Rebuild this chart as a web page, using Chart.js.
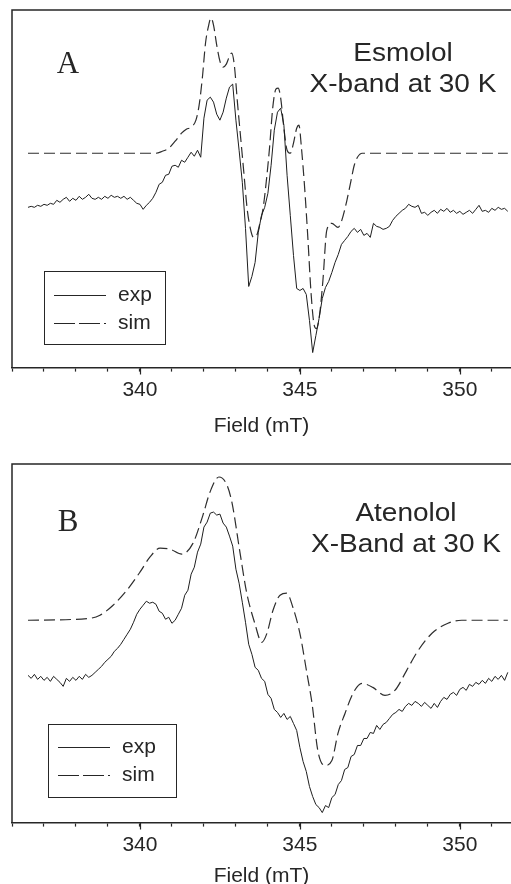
<!DOCTYPE html>
<html>
<head>
<meta charset="utf-8">
<script src="https://cdn.jsdelivr.net/npm/chart.js@4.4.0/dist/chart.umd.min.js"></script>
<style>
  html, body { margin: 0; padding: 0; background: #fff; overflow: hidden; }
  body { width: 511px; height: 884px; position: relative; }
  canvas { position: absolute; left: 0; }
  #chartA { top: 0; }
  #chartB { top: 454px; }
</style>
</head>
<body>
<canvas id="chartA" width="511" height="440"></canvas>
<canvas id="chartB" width="511" height="436"></canvas>
<script>
// Field grid of the experimental traces (mT)
const fieldStart = 336.5;
const fieldStep = 0.1;
const tickLabels = [340, 345, 350];

// Panel A - Esmolol, experimental trace (a.u.)
const expA = [
  -54, -53, -54, -52, -53, -51, -52, -50, -51, -47,
  -49, -46, -44, -48, -45, -47, -43, -46, -44, -41,
  -45, -46, -44, -46, -43, -45, -42, -44, -43, -45,
  -43, -46, -44, -47, -50, -51, -56, -52, -49, -45,
  -39, -31, -29, -22, -21, -13, -12, -14, -7, -9,
  -4, 1, -3, 3, -4, 35, 53, 56, 51, 39,
  33, 41, 55, 66, 69, 33, 3, -29, -75, -133,
  -123, -109, -79, -62, -54, -40, -12, 23, 41, 45,
  28, -22, -62, -102, -135, -137, -135, -141, -167, -199,
  -182, -165, -145, -134, -128, -119, -109, -101, -91, -87,
  -83, -78, -75, -79, -76, -82, -80, -84, -70, -73,
  -74, -76, -75, -73, -67, -63, -60, -57, -55, -51,
  -53, -54, -52, -60, -59, -62, -59, -57, -60, -56,
  -58, -55, -59, -57, -60, -58, -61, -59, -57, -60,
  -56, -52, -58, -57, -59, -55, -57, -54, -56, -55,
  -58
];

// Panel A - simulation
const simAField = [336.5, 340.5, 340.7, 340.9, 341.1, 341.3, 341.45, 341.6, 341.75, 341.85,
  341.95, 342.05, 342.15, 342.22, 342.3, 342.4, 342.5, 342.6, 342.7, 342.8,
  342.87, 342.95, 343.05, 343.15, 343.25, 343.35, 343.45, 343.55, 343.65, 343.75,
  343.85, 343.95, 344.05, 344.15, 344.25, 344.32, 344.4, 344.5, 344.6, 344.7,
  344.8, 344.9, 344.97, 345.05, 345.15, 345.25, 345.35, 345.45, 345.52, 345.62,
  345.72, 345.84, 346.0, 346.19, 346.31, 346.47, 346.6, 346.7, 346.8, 346.95, 351.5];
const simA = [0, 0, 2, 5, 12, 20, 24, 26, 33, 48,
  75, 110, 128, 135, 128, 108, 92, 86, 89, 97,
  100, 88, 50, 15, -20, -55, -75, -84, -82, -70,
  -55, -28, 5, 45, 64, 65, 55, 25, 3, 0,
  10, 25, 28, 5, -35, -85, -140, -172, -175, -160,
  -127, -77, -70, -74, -67, -47, -27, -12, -4, 0, 0];

// Panel B - Atenolol, experimental trace (a.u.)
const expB = [
  -55, -58, -54, -59, -56, -60, -57, -61, -56, -59,
  -62, -66, -58, -61, -57, -60, -56, -59, -54, -57,
  -55, -52, -49, -46, -42, -39, -36, -31, -28, -24,
  -19, -14, -9, -2, 6, 11, 15, 19, 17, 18,
  16, 9, 7, 1, 3, -3, 0, 6, 12, 25,
  30, 46, 53, 68, 76, 93, 98, 107, 108, 105,
  106, 97, 93, 84, 74, 51, 37, 18, -2, -24,
  -34, -47, -50, -58, -61, -74, -78, -89, -92, -97,
  -93, -99, -96, -103, -110, -127, -141, -151, -166, -176,
  -184, -187, -192, -185, -187, -177, -174, -164, -160, -149,
  -147, -136, -134, -125, -125, -118, -118, -112, -113, -105,
  -109, -104, -102, -98, -94, -92, -89, -91, -86, -83,
  -85, -81, -83, -86, -82, -85, -88, -83, -87, -81,
  -77, -79, -74, -72, -75, -69, -67, -70, -64, -66,
  -62, -64, -60, -63, -58, -61, -56, -59, -55, -60,
  -52
];

// Panel B - simulation
const simBField = [336.5, 338.44, 338.75, 339.16, 339.59, 340.0, 340.31, 340.63, 340.94, 341.31,
  341.66, 341.97, 342.19, 342.47, 342.72, 342.88, 343.13, 343.34, 343.59, 343.81,
  343.97, 344.16, 344.38, 344.59, 344.78, 345.0, 345.22, 345.38, 345.56, 345.78,
  346.0, 346.19, 346.41, 346.66, 346.94, 347.28, 347.66, 347.97, 348.34, 348.66,
  349.13, 349.63, 350.06, 351.5];
const simB = [0, 2, 5, 15, 30, 48, 63, 72, 71, 66,
  77, 105, 128, 143, 135, 117, 67, 27, -3, -22,
  -13, 10, 25, 27, 13, -13, -53, -83, -130, -145,
  -140, -113, -93, -73, -63, -67, -75, -70, -50, -32,
  -13, -3, 0, 0];

const INK = '#262626';
const SANS = '"Liberation Sans", Arial, sans-serif';
const SERIF = '"Liberation Serif", "Times New Roman", serif';

function expPoints(values) {
  return values.map((v, i) => ({ x: +(fieldStart + i * fieldStep).toFixed(2), y: v }));
}
function simPoints(fields, values) {
  return fields.map((f, i) => ({ x: f, y: values[i] }));
}

// Frame, major ticks, panel letter, annotation and legend
const decorPlugin = {
  id: 'decor',
  afterDraw(chart, args, o) {
    const { ctx, chartArea: a, scales: { x } } = chart;
    ctx.save();
    ctx.strokeStyle = INK;
    ctx.lineWidth = 1.5;
    ctx.beginPath();
    ctx.moveTo(a.left, a.bottom);
    ctx.lineTo(a.left, a.top);
    ctx.lineTo(a.right, a.top);
    ctx.stroke();

    ctx.lineWidth = 1.2;
    ctx.beginPath();
    tickLabels.forEach(v => {
      const px = Math.round(x.getPixelForValue(v)) + 0.5;
      ctx.moveTo(px, a.bottom);
      ctx.lineTo(px, a.bottom + 7);
    });
    ctx.stroke();

    ctx.fillStyle = INK;
    ctx.font = '31px ' + SERIF;
    ctx.textAlign = 'center';
    ctx.textBaseline = 'alphabetic';
    ctx.fillText(o.letter, 68, o.letterY);

    // annotation, slightly wide lettering as in the original
    ctx.font = '25px ' + SANS;
    o.note.forEach((line, i) => {
      ctx.save();
      ctx.translate(o.noteX, o.noteY + i * 31);
      ctx.scale(1.12, 1);
      ctx.fillText(line, 0, 0);
      ctx.restore();
    });

    // legend
    const L = o.legend;
    ctx.lineWidth = 1;
    ctx.strokeStyle = INK;
    ctx.strokeRect(L.x + 0.5, L.y + 0.5, L.w, L.h);
    ctx.font = '21px ' + SANS;
    ctx.textAlign = 'left';
    ctx.textBaseline = 'middle';
    chart.data.datasets.forEach((ds, i) => {
      const yy = L.y + L.row0 + i * 28 + 0.5;
      ctx.beginPath();
      ctx.setLineDash(ds.borderDash && ds.borderDash.length ? [21, 4] : []);
      ctx.lineWidth = ds.borderWidth;
      ctx.moveTo(L.x + 10, yy);
      ctx.lineTo(L.x + 62, yy);
      ctx.stroke();
      ctx.setLineDash([]);
      ctx.fillText(ds.label, L.x + 74, yy);
    });
    ctx.restore();
  }
};

function makePanel(id, exp, simF, sim, yMin, yMax, decor, titlePad, bottomPad) {
  return new Chart(document.getElementById(id), {
    type: 'line',
    data: {
      datasets: [
        {
          label: 'exp',
          data: expPoints(exp),
          borderColor: '#1e1e1e',
          borderWidth: 1,
          pointRadius: 0,
          tension: 0
        },
        {
          label: 'sim',
          data: simPoints(simF, sim),
          borderColor: '#2e2e2e',
          borderWidth: 1.2,
          borderDash: [11, 5],
          pointRadius: 0,
          cubicInterpolationMode: 'monotone'
        }
      ]
    },
    options: {
      responsive: false,
      animation: false,
      devicePixelRatio: 1,
      layout: { padding: { left: 12, right: 0, top: 10, bottom: bottomPad } },
      plugins: {
        legend: { display: false },
        tooltip: { enabled: false },
        decor: decor
      },
      scales: {
        x: {
          type: 'linear',
          min: 336,
          max: 351.6,
          border: { display: true, color: INK, width: 1.5 },
          grid: { display: true, drawOnChartArea: false, drawTicks: true, tickLength: 4, color: INK, tickWidth: 1.2 },
          ticks: {
            stepSize: 1,
            includeBounds: false,
            autoSkip: false,
            maxRotation: 0,
            padding: 6,
            color: INK,
            font: { family: SANS, size: 21 },
            callback: v => tickLabels.includes(v) ? String(v) : ''
          },
          title: {
            display: true,
            text: 'Field (mT)',
            color: INK,
            font: { family: SANS, size: 21 },
            padding: { top: titlePad, bottom: 0 }
          }
        },
        y: { display: false, min: yMin, max: yMax }
      }
    },
    plugins: [decorPlugin]
  });
}

makePanel('chartA', expA, simAField, simA, -214, 143, {
  letter: 'A', letterY: 73,
  note: ['Esmolol', 'X-band at 30 K'], noteX: 403, noteY: 61,
  legend: { x: 44, y: 271, w: 121, h: 73, row0: 24 }
}, 5, 1);

makePanel('chartB', expB, simBField, simB, -202, 156, {
  letter: 'B', letterY: 77,
  note: ['Atenolol', 'X-Band at 30 K'], noteX: 406, noteY: 67,
  legend: { x: 48, y: 270, w: 128, h: 73, row0: 23 }
}, 0, 1);
</script>
</body>
</html>
